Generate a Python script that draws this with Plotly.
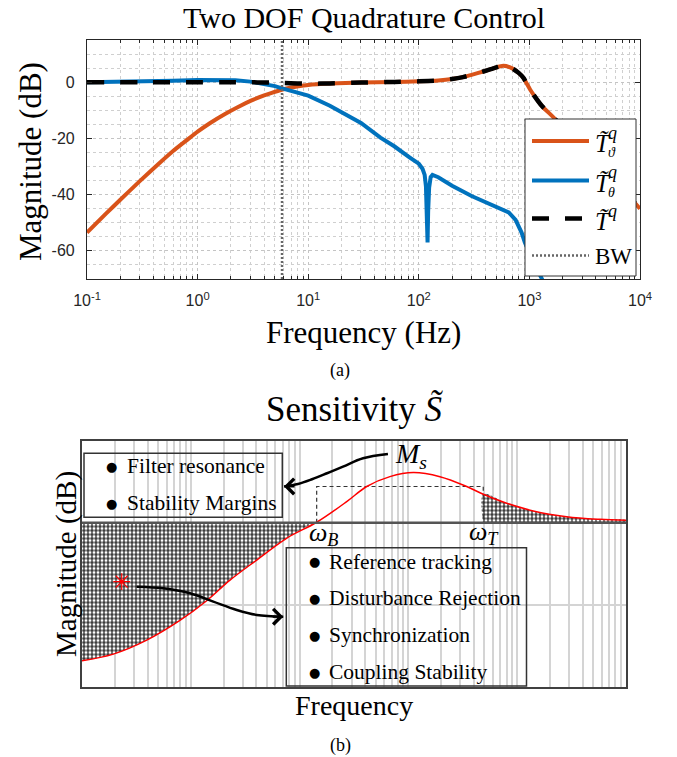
import plotly.graph_objects as go

W, H = 677, 757

# ---------------- Panel (a): Two DOF Quadrature Control ----------------
tv_freq = [0.1, 0.15, 0.2, 0.3, 0.44, 0.6, 0.8, 1.0, 1.3, 1.77, 2.3, 3.08, 4.0, 4.68, 5.76, 7.0, 8.15, 10,
           15.7, 30, 60, 100, 150, 200, 251, 300, 383, 480, 581, 692, 800, 880, 1011, 1100, 1300, 1650,
           2500, 4000, 6000, 10000]
tv_db = [-53.5, -46.6, -41.8, -35.2, -29.2, -24.5, -20.6, -17.6, -14.5, -11.3, -8.9, -6.5, -4.7, -3.8, -2.7,
         -1.9, -1.45, -1.0, -0.5, -0.15, 0.1, 0.3, 0.6, 1.1, 1.8, 2.6, 3.8, 5.0, 5.8, 5.0, 3.3, 1.6, -2.5, -4.7,
         -8.5, -12.5, -19.8, -28.0, -35.3, -45.0]

th_freq = [0.1, 0.3, 0.6, 1.0, 1.5, 2.2, 3.0, 4.0, 5.0, 5.8, 7.0, 10, 15.7, 22, 30, 45, 60, 83, 100, 108,
           113, 116, 118.5, 120, 121.5, 124, 128, 133, 150, 200, 300, 450, 560, 650, 750, 850, 910, 1000,
           1150, 1300, 1500]
th_db = [0.0, 0.15, 0.5, 0.8, 0.9, 0.7, 0.2, -0.6, -1.4, -2.2, -3.0, -4.8, -8.4, -11.5, -14.5, -19.7, -22.8,
         -26.8, -29.0, -30.8, -33.0, -37.0, -45.0, -57.0, -46.0, -37.5, -33.8, -33.0, -33.8, -36.8, -40.5,
         -43.5, -45.0, -46.3, -49.0, -53.5, -57.0, -61.0, -66.0, -70.0, -76.0]

tq_freq = [0.1, 0.3, 1, 2, 3, 4, 5, 6, 8, 10, 15.7, 30, 60, 100, 150, 200, 251, 300, 383, 480, 581, 692, 800,
           880, 1011, 1100, 1300, 1650, 2500, 4000, 6000, 10000]
tq_db = [0.0, 0.0, 0.0, 0.0, -0.05, -0.1, -0.2, -0.3, -0.45, -0.55, -0.45, -0.15, 0.1, 0.3, 0.6, 1.1, 1.8, 2.6,
         3.8, 5.0, 5.8, 5.0, 3.3, 1.6, -2.5, -4.7, -8.5, -12.5, -19.8, -28.0, -35.3, -45.0]

bw_freq = 5.8
a_xrange = [-1, 4]
a_yrange = [-70, 15]
a_xtick_vals = [0.1, 1, 10, 100, 1000, 10000]
a_xtick_text = ["10<sup>-1</sup>", "10<sup>0</sup>", "10<sup>1</sup>", "10<sup>2</sup>",
                "10<sup>3</sup>", "10<sup>4</sup>"]
a_ytick_vals = [0, -20, -40, -60]
a_ytick_text = ["0", "-20", "-40", "-60"]

# ---------------- Panel (b): Sensitivity ----------------
s_logf = [0.0, 0.288, 0.595, 0.90, 1.146, 1.36, 1.606, 1.88, 2.157, 2.433, 2.617, 2.83, 3.045, 3.29,
          3.536, 3.688, 3.903, 4.148, 4.454, 4.76, 5.0]
s_db = [-16.8, -16.0, -14.3, -11.9, -9.5, -7.0, -4.55, -1.9, 0.05, 2.56, 4.4, 5.6, 6.1, 5.6, 4.4, 3.46,
        2.37, 1.43, 0.73, 0.41, 0.29]
omega_b_logf = 2.157
omega_t_logf = 3.688
band_db = 4.4
ms_arrow_logf = [2.812, 2.583, 2.399, 2.252, 2.114, 1.985, 1.857]
ms_arrow_db = [8.36, 7.84, 6.82, 6.01, 5.28, 4.71, 4.41]
task_arrow_logf = [0.503, 0.747, 0.993, 1.207, 1.422, 1.606, 1.850]
task_arrow_db = [-7.79, -7.98, -8.59, -9.61, -10.62, -11.23, -11.44]
star_logf, star_db = 0.365, -7.18
b_xrange = [0, 5]
b_yrange = [-20, 10]
box1_items = ["Filter resonance", "Stability Margins"]
box2_items = ["Reference tracking", "Disturbance Rejection", "Synchronization", "Coupling Stability"]

SERIF = "Liberation Serif"
SANS = "Liberation Sans"


def px(x):
    return x / W


def py(y):
    return 1 - y / H


fig = go.Figure()

# ---- panel (a) traces
fig.add_trace(go.Scatter(x=tv_freq, y=tv_db, mode="lines",
                         line=dict(color="#D95319", width=4, shape="spline", smoothing=0.6),
                         xaxis="x", yaxis="y", showlegend=False))
fig.add_trace(go.Scatter(x=th_freq, y=th_db, mode="lines", line=dict(color="#0072BD", width=4),
                         xaxis="x", yaxis="y", showlegend=False))
fig.add_trace(go.Scatter(x=tq_freq, y=tq_db, mode="lines",
                         line=dict(color="black", width=4.5, dash="17px,16px", shape="spline", smoothing=0.6),
                         xaxis="x", yaxis="y", showlegend=False))
fig.add_trace(go.Scatter(x=[bw_freq, bw_freq], y=a_yrange, mode="lines",
                         line=dict(color="#666666", width=2.5, dash="2px,2px"),
                         xaxis="x", yaxis="y", showlegend=False))

# ---- panel (b) traces
X = lambda u: 10 ** u
left_x = [X(u) for u in s_logf if u <= omega_b_logf] + [X(omega_b_logf), X(b_xrange[0])]
left_y = [d for u, d in zip(s_logf, s_db) if u <= omega_b_logf] + [0, 0]
right_x = [X(omega_t_logf)] + [X(u) for u in s_logf if u >= omega_t_logf] + [X(b_xrange[1])]
right_y = [0] + [d for u, d in zip(s_logf, s_db) if u >= omega_t_logf] + [0]
hatch = dict(shape="+", size=4, solidity=0.45, fgcolor="black", bgcolor="white", fgopacity=1)
for hx, hy in ((left_x, left_y), (right_x, right_y)):
    fig.add_trace(go.Scatter(x=hx, y=hy, mode="lines", fill="toself", fillcolor="white", fillpattern=hatch,
                             line=dict(width=0, color="black", shape="spline", smoothing=1.0),
                             xaxis="x2", yaxis="y2", showlegend=False))

fig.add_trace(go.Scatter(x=[X(omega_b_logf), X(omega_b_logf), X(omega_t_logf), X(omega_t_logf)],
                         y=[0, band_db, band_db, 0], mode="lines",
                         line=dict(color="#333333", width=1.2, dash="4px,3px"),
                         xaxis="x2", yaxis="y2", showlegend=False))
fig.add_trace(go.Scatter(x=[X(u) for u in s_logf], y=s_db, mode="lines",
                         line=dict(color="#ff0000", width=1.5, shape="spline", smoothing=1.0),
                         xaxis="x2", yaxis="y2", showlegend=False))
for ax_, ay_ in ((ms_arrow_logf, ms_arrow_db), (task_arrow_logf, task_arrow_db)):
    fig.add_trace(go.Scatter(x=[X(u) for u in ax_], y=ay_, mode="lines",
                             line=dict(color="black", width=2.5, shape="spline", smoothing=1.0),
                             xaxis="x2", yaxis="y2", showlegend=False))
fig.add_trace(go.Scatter(x=[X(star_logf)], y=[star_db], mode="markers",
                         marker=dict(symbol="asterisk-open", size=14, color="#ff0000",
                                     line=dict(color="#ff0000", width=1.2)),
                         xaxis="x2", yaxis="y2", showlegend=False))

a_minor = [k * 10 ** d for d in range(-1, 4) for k in range(2, 10)]
b_minor = [k * 10 ** d for d in range(0, 5) for k in range(2, 10)]

fig.update_layout(
    width=W, height=H, margin=dict(l=0, r=0, t=0, b=0, pad=0, autoexpand=False), autosize=False,
    paper_bgcolor="white", plot_bgcolor="white", showlegend=False,
    xaxis=dict(type="log", range=a_xrange, domain=[px(87), px(640)], anchor="y", automargin=False,
               tickmode="array", tickvals=a_xtick_vals, ticktext=a_xtick_text,
               ticks="inside", ticklen=5, tickcolor="#262626", mirror="ticks",
               showline=True, linecolor="#262626", linewidth=1.2,
               showgrid=True, gridcolor="#c4c4c4", griddash="dot", gridwidth=1,
               zeroline=False, tickfont=dict(family=SANS, size=16, color="#262626"),
               ticklabelstandoff=7,
               minor=dict(tickmode="array", tickvals=a_minor, ticks="inside", ticklen=3, tickcolor="#262626",
                          showgrid=True, gridcolor="#cfcfcf", griddash="dot", gridwidth=1)),
    yaxis=dict(range=a_yrange, domain=[py(279), py(40)], anchor="x", automargin=False,
               tickmode="array", tickvals=a_ytick_vals, ticktext=a_ytick_text,
               ticks="inside", ticklen=5, tickcolor="#262626", mirror="ticks",
               showline=True, linecolor="#262626", linewidth=1.2,
               showgrid=True, gridcolor="#c4c4c4", griddash="dot", gridwidth=1,
               zeroline=False, tickfont=dict(family=SANS, size=16, color="#262626"),
               ticklabelstandoff=8,
               minor=dict(tickmode="linear", tick0=0, dtick=5, ticks="",
                          showgrid=True, gridcolor="#cfcfcf", griddash="dot", gridwidth=1)),
    xaxis2=dict(type="log", range=b_xrange, domain=[px(82), px(626)], anchor="y2", automargin=False,
                tickmode="array", tickvals=[10 ** d for d in range(0, 6)], showticklabels=False, ticks="",
                showline=True, mirror=True, linecolor="#404040", linewidth=1.6,
                showgrid=True, gridcolor="#d4d4d4", gridwidth=1.5, zeroline=False,
                minor=dict(tickmode="array", tickvals=b_minor, ticks="", showgrid=True,
                           gridcolor="#d4d4d4", gridwidth=1.5)),
    yaxis2=dict(range=b_yrange, domain=[py(687), py(440.5)], anchor="x2", automargin=False,
                tickmode="array", tickvals=[-20, -10, 0, 10], showticklabels=False, ticks="",
                showline=True, mirror=True, linecolor="#404040", linewidth=1.6,
                showgrid=True, gridcolor="#d4d4d4", gridwidth=1.5, zeroline=False),
)

shapes = []
# 0 dB reference line of panel (b)
shapes.append(dict(type="line", xref="x2 domain", yref="y2", x0=0, x1=1, y0=0, y1=0,
                   line=dict(color="#555555", width=2.5), layer="above"))
# text boxes of panel (b)
shapes.append(dict(type="rect", xref="paper", yref="paper", x0=px(84), x1=px(282.3), y0=py(517.3), y1=py(453.3),
                   line=dict(color="#333333", width=1.5), fillcolor="rgba(0,0,0,0)", layer="above"))
shapes.append(dict(type="rect", xref="paper", yref="paper", x0=px(286.3), x1=px(526.5), y0=py(686), y1=py(547.7),
                   line=dict(color="#333333", width=1.5), fillcolor="rgba(0,0,0,0)", layer="above"))
# legend of panel (a)
shapes.append(dict(type="rect", xref="paper", yref="paper", x0=px(525), x1=px(636), y0=py(276), y1=py(119),
                   line=dict(color="#333333", width=1), fillcolor="white", layer="above"))
legend_rows = [(141, dict(color="#D95319", width=4)),
               (180.5, dict(color="#0072BD", width=4)),
               (218.5, dict(color="black", width=4.5, dash="17px,16px")),
               (255.5, dict(color="#666666", width=2.5, dash="2px,2px"))]
for yy, ln in legend_rows:
    shapes.append(dict(type="line", xref="paper", yref="paper", x0=px(532), x1=px(589), y0=py(yy), y1=py(yy),
                       line=ln, layer="above"))

ann = []


def text(x, y, s, size, family=SERIF, xanchor="center", yanchor="middle", angle=0, color="black"):
    ann.append(dict(x=px(x), y=py(y), xref="paper", yref="paper", text=s, showarrow=False,
                    xanchor=xanchor, yanchor=yanchor, textangle=angle,
                    font=dict(family=family, size=size, color=color)))


# panel (a) texts
text(363.5, 18, "Two DOF Quadrature Control", 30)
text(363.5, 332, "Frequency (Hz)", 31)
text(31, 162, "Magnitude (dB)", 31, angle=-90)
text(340, 370, "(a)", 18)
# legend labels
text(593, 143, "<i>T\u0303</i>", 25, xanchor="left")
text(606, 133, "<i>q</i>", 18, xanchor="left")
text(606, 152, "<i>\u03d1</i>", 14, xanchor="left")
text(593, 183, "<i>T\u0303</i>", 25, xanchor="left")
text(606, 172, "<i>q</i>", 18, xanchor="left")
text(606, 192, "<i>\u03b8</i>", 14, xanchor="left")
text(593, 221, "<i>T\u0303</i>", 25, xanchor="left")
text(606, 211, "<i>q</i>", 18, xanchor="left")
text(593, 256, "BW", 23, xanchor="left")

# panel (b) texts
text(354, 409, "Sensitivity <i>S\u0303</i>", 35)
text(354, 705, "Frequency", 28)
text(66, 564, "Magnitude (dB)", 29, angle=-90)
text(340, 745, "(b)", 18)
text(393, 455, "<i>M</i><sub><i>s</i></sub>", 28, xanchor="left")
text(307, 534, "<i>\u03c9</i><sub><i>B</i></sub>", 26, xanchor="left")
text(467, 533, "<i>\u03c9</i><sub><i>T</i></sub>", 26, xanchor="left")
for i, s in enumerate(box1_items):
    yy = [466, 503.3][i]
    text(111.7, yy, "\u25cf", 13, family="DejaVu Sans")
    text(125, yy, s, 21.5, xanchor="left")
for i, s in enumerate(box2_items):
    yy = [561.7, 598.3, 635, 672.3][i]
    text(314.4, yy, "\u25cf", 13, family="DejaVu Sans")
    text(327.4, yy, s, 21.5, xanchor="left")

# arrowheads for the curved arrows
for lx, ly, dx in ((ms_arrow_logf, ms_arrow_db, 12), (task_arrow_logf, task_arrow_db, -12)):
    ann.append(dict(x=lx[-1], y=ly[-1], xref="x2", yref="y2", ax=dx, ay=0, text="", showarrow=True,
                    arrowhead=4, arrowsize=1.3, arrowwidth=2.3, arrowcolor="black", standoff=0))

fig.update_layout(shapes=shapes, annotations=ann)
fig.write_html("out.html")
